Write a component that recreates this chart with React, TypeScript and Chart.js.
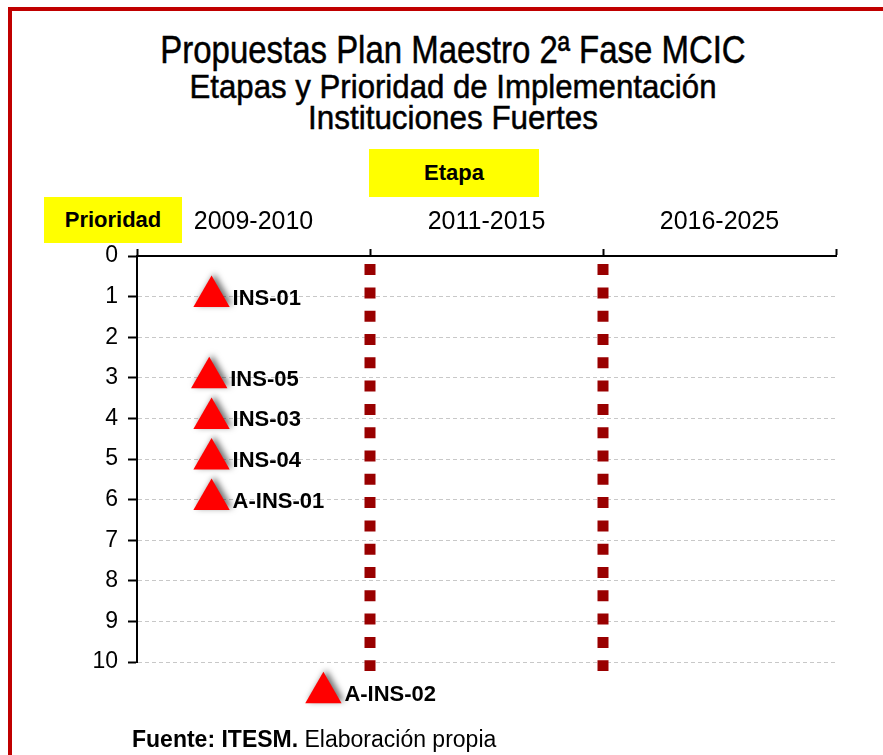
import React, { useEffect, useRef } from 'react';
import { Chart, registerables } from 'chart.js';

Chart.register(...registerables);

// ---- data ----
const stageLabels = ['2009-2010', '2011-2015', '2016-2025'];
const proposalNames = ['INS-01', 'INS-05', 'INS-03', 'INS-04', 'A-INS-01', 'A-INS-02'];
const proposalStage = [0.32, 0.31, 0.32, 0.32, 0.32, 0.8];
const proposalPriority = [1, 3, 4, 5, 6, 10.76];
const dividerStages = [1, 2];
const dividerSpan = [0.2, 10.22];
const priorityMin = 0;
const priorityMax = 10;
const titleLine = 'Propuestas Plan Maestro 2ª Fase MCIC';
const subtitleLines = ['Etapas y Prioridad de Implementación', 'Instituciones Fuertes'];

const SANS = '"Liberation Sans", Arial, Helvetica, sans-serif';

const shadowPlugin = {
  id: 'triShadow',
  beforeDatasetDraw(chart: any, args: any) {
    if (chart.data.datasets[args.index].label !== 'Propuestas') return;
    const ctx = chart.ctx;
    ctx.save();
    ctx.shadowColor = 'rgba(0,0,0,0.55)';
    ctx.shadowBlur = 6;
    ctx.shadowOffsetX = 3;
    ctx.shadowOffsetY = -2;
  },
  afterDatasetDraw(chart: any, args: any) {
    if (chart.data.datasets[args.index].label !== 'Propuestas') return;
    const area = chart.chartArea;
    // points lying outside the plot area are skipped by Chart.js; draw them too
    args.meta.data.forEach((el: any) => {
      if (el.y > area.bottom || el.y < area.top) el.draw(chart.ctx);
    });
    chart.ctx.restore();
  },
};

const labelPlugin = {
  id: 'pointNames',
  afterDatasetsDraw(chart: any) {
    const idx = chart.data.datasets.findIndex((d: any) => d.label === 'Propuestas');
    const meta = chart.getDatasetMeta(idx);
    const ctx = chart.ctx;
    ctx.save();
    ctx.font = `bold 22px ${SANS}`;
    ctx.fillStyle = '#000';
    ctx.textAlign = 'left';
    ctx.textBaseline = 'middle';
    meta.data.forEach((pt: any, i: number) => {
      ctx.fillText(proposalNames[i], pt.x + 21, pt.y + 2);
    });
    ctx.restore();
  },
};

export default function App() {
  const ref = useRef<HTMLCanvasElement | null>(null);

  useEffect(() => {
    if (!ref.current) return;
    const datasets: any[] = dividerStages.map((s) => ({
      label: 'Etapa ' + s,
      data: [
        { x: s, y: dividerSpan[0] },
        { x: s, y: dividerSpan[1] },
      ],
      showLine: true,
      borderColor: '#990000',
      borderWidth: 11,
      borderDash: [11, 12.3],
      borderCapStyle: 'butt',
      pointRadius: 0,
      clip: false,
    }));
    datasets.push({
      label: 'Propuestas',
      data: proposalNames.map((_, i) => ({ x: proposalStage[i], y: proposalPriority[i] })),
      pointStyle: 'triangle',
      pointRadius: 21,
      backgroundColor: '#ff0000',
      borderColor: '#ff0000',
      borderWidth: 0,
      showLine: false,
      clip: false,
    });

    const chart = new Chart(ref.current, {
      type: 'scatter',
      data: { datasets },
      plugins: [shadowPlugin, labelPlugin],
      options: {
        responsive: false,
        animation: false,
        devicePixelRatio: 1,
        events: [],
        layout: { padding: { top: 132, left: 0, right: 47, bottom: 93 } },
        plugins: {
          legend: { display: false },
          tooltip: { enabled: false },
          title: { display: false },
        },
        scales: {
          x: {
            type: 'linear',
            position: 'top',
            min: 0,
            max: stageLabels.length,
            afterFit: (s: any) => {
              s.height = 124;
            },
            ticks: {
              stepSize: 0.5,
              autoSkip: false,
              maxRotation: 0,
              padding: 12,
              color: '#000',
              font: { family: SANS, size: 25 },
              callback: (v: any) =>
                Number.isInteger(v) ? '' : stageLabels[Math.floor(v)] ?? '',
            },
            grid: {
              drawOnChartArea: false,
              drawTicks: true,
              tickLength: 7,
              tickWidth: 2,
              tickColor: (c: any) =>
                c.tick && Number.isInteger(c.tick.value) ? '#000' : 'rgba(0,0,0,0)',
            },
            border: { display: true, color: '#000', width: 2 },
          },
          y: {
            type: 'linear',
            reverse: true,
            min: priorityMin,
            max: priorityMax,
            afterFit: (s: any) => {
              s.width = 137;
            },
            ticks: {
              stepSize: 1,
              padding: 10,
              color: '#000',
              font: { family: SANS, size: 23 },
            },
            grid: {
              drawOnChartArea: true,
              drawTicks: true,
              tickLength: 9,
              tickWidth: 2,
              tickColor: '#000',
              lineWidth: 1,
              color: (c: any) =>
                c.tick && c.tick.value === priorityMin ? 'rgba(0,0,0,0)' : '#c8c8c8',
            },
            border: { display: true, color: '#000', width: 2, dash: [4, 3] },
          },
        },
      } as any,
    });
    return () => chart.destroy();
  }, []);

  const box: React.CSSProperties = {
    position: 'absolute',
    background: '#ffff00',
    display: 'flex',
    alignItems: 'center',
    justifyContent: 'center',
    fontFamily: SANS,
    fontWeight: 'bold',
    fontSize: 22,
    color: '#000',
  };

  const titleRow = (top: number, size: number, sx: number): React.CSSProperties => ({
    position: 'absolute',
    left: 0,
    width: 906,
    top,
    textAlign: 'center',
    fontFamily: SANS,
    fontSize: size,
    lineHeight: `${size}px`,
    color: '#000',
    whiteSpace: 'nowrap',
    transform: `scaleX(${sx})`,
    transformOrigin: '453px 0',
    WebkitTextStroke: '0.5px #000',
  });

  return (
    <div
      style={{
        position: 'absolute',
        left: 0,
        top: 0,
        width: 883,
        height: 755,
        overflow: 'hidden',
        background: '#fff',
      }}
    >
      <div
        style={{
          position: 'absolute',
          left: 8,
          top: 7,
          width: 900,
          height: 800,
          borderTop: '4px solid #c00000',
          borderLeft: '4px solid #c00000',
        }}
      />
      <div style={titleRow(31, 38, 0.867)}>{titleLine}</div>
      <div style={titleRow(70, 33, 0.945)}>{subtitleLines[0]}</div>
      <div style={titleRow(101, 33, 0.952)}>{subtitleLines[1]}</div>
      <canvas
        ref={ref}
        width={883}
        height={755}
        style={{ position: 'absolute', left: 0, top: 0, width: 883, height: 755 }}
      />
      <div style={{ ...box, left: 369, top: 149, width: 170, height: 48 }}>Etapa</div>
      <div style={{ ...box, left: 44, top: 197, width: 138, height: 46 }}>Prioridad</div>
      <div
        style={{
          position: 'absolute',
          left: 132,
          top: 728,
          fontFamily: SANS,
          fontSize: 23,
          lineHeight: '23px',
          color: '#000',
          whiteSpace: 'nowrap',
        }}
      >
        <b>Fuente: ITESM.</b> Elaboración propia
      </div>
    </div>
  );
}
